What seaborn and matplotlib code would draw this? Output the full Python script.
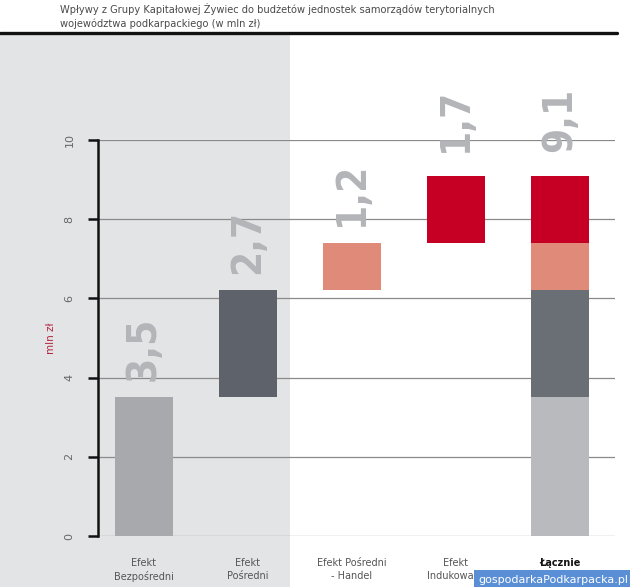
import numpy as np
import pandas as pd
import matplotlib
matplotlib.use("Agg")
import matplotlib.pyplot as plt
from matplotlib.patches import Rectangle
from matplotlib.lines import Line2D
import seaborn as sns

# Dane
TITLE = ("Wpływy z Grupy Kapitałowej Żywiec do budżetów jednostek samorządów terytorialnych\n"
         "województwa podkarpackiego (w mln zł)")
categories = ["Efekt\nBezpośredni", "Efekt\nPośredni", "Efekt Pośredni\n- Handel",
              "Efekt\nIndukowany", "Łącznie"]
values = [3.5, 2.7, 1.2, 1.7]
total = 9.1
value_labels = ["3,5", "2,7", "1,2", "1,7", "9,1"]
bar_colors = ["#a8a9ac", "#5e626a", "#e08b7a", "#c50024"]
total_colors = ["#b9babd", "#6a6e75", "#e08b7a", "#c50024"]
yticks = [0, 2, 4, 6, 8, 10]

sns.set_theme(style="white")
plt.rcParams["font.family"] = ["DejaVu Sans"]

fig = plt.figure(figsize=(6.3, 5.87), dpi=100)
fig.patch.set_facecolor("white")

# szare tło z lewej strony
fig.add_artist(Rectangle((0, 0), 290 / 630, (587 - 35) / 587, transform=fig.transFigure,
                         facecolor="#e3e4e6", edgecolor="none", zorder=-10))
fig.add_artist(Line2D([0, 617 / 630], [1 - 33 / 587] * 2, transform=fig.transFigure,
                      color="#111111", lw=2.4))
fig.text(60 / 630, 1 - 3 / 587, TITLE, ha="left", va="top", fontsize=7.1,
         color="#4a4a4a", linespacing=1.4)

ax = fig.add_axes([98 / 630, 1 - 536 / 587, (615 - 98) / 630, (536 - 140) / 587])
ax.set_facecolor("none")

# waterfall - segmenty
starts = np.concatenate([[0], np.cumsum(values)[:-1]])
df = pd.DataFrame({"cat": categories[:4], "start": starts, "val": values, "color": bar_colors})
for _, r in df.iterrows():
    sns.barplot(x=[r["cat"]], y=[r["val"]], bottom=r["start"], color=r["color"],
                order=categories, width=0.56, errorbar=None, saturation=1,
                linewidth=0, ax=ax)
for s, v, c in zip(starts, values, total_colors):
    sns.barplot(x=[categories[4]], y=[v], bottom=s, color=c,
                order=categories, width=0.56, errorbar=None, saturation=1,
                linewidth=0, ax=ax)

tops = list(starts + np.array(values)) + [total]
for i, (t, lab) in enumerate(zip(tops, value_labels)):
    off = 12 if i < 3 else 17
    ax.annotate(lab, (i, t), xytext=(0, off), textcoords="offset points",
                rotation=90, ha="center", va="bottom", fontsize=29, fontweight="bold",
                fontstretch="condensed", color="#b4b5b8", family="DejaVu Sans")

ax.set_xlim(-0.442, 4.53)
ax.set_ylim(0, 10)
ax.set_yticks(yticks)
ax.set_yticklabels([str(t) for t in yticks], rotation=90, va="center")
ax.yaxis.grid(True, color="#8a8a8a", lw=0.9)
ax.set_axisbelow(True)
for sp in ["top", "right", "bottom"]:
    ax.spines[sp].set_visible(False)
ax.spines["left"].set_color("#111111")
ax.spines["left"].set_linewidth(1.8)
ax.tick_params(axis="y", which="major", left=True, length=7, width=1.8, color="#111111",
               pad=10, labelsize=8, labelcolor="#666666")
ax.set_ylabel("mln zł", color="#b5243f", fontsize=7.5, labelpad=6)
ax.set_xlabel("")
ax.set_xticks(range(len(categories)))
ax.set_xticklabels(categories, fontsize=7, color="#555555", linespacing=1.3)
ax.tick_params(axis="x", length=0, pad=16)
lab = ax.get_xticklabels()[-1]
lab.set_fontweight("bold")
lab.set_color("#111111")

fig.text(0.997, 0.004, "gospodarkaPodkarpacka.pl", ha="right", va="bottom",
         fontsize=8, color="white",
         bbox=dict(boxstyle="square,pad=0.4", facecolor="#5a8fd6", edgecolor="none"))

plt.savefig("out.png", dpi=100)
